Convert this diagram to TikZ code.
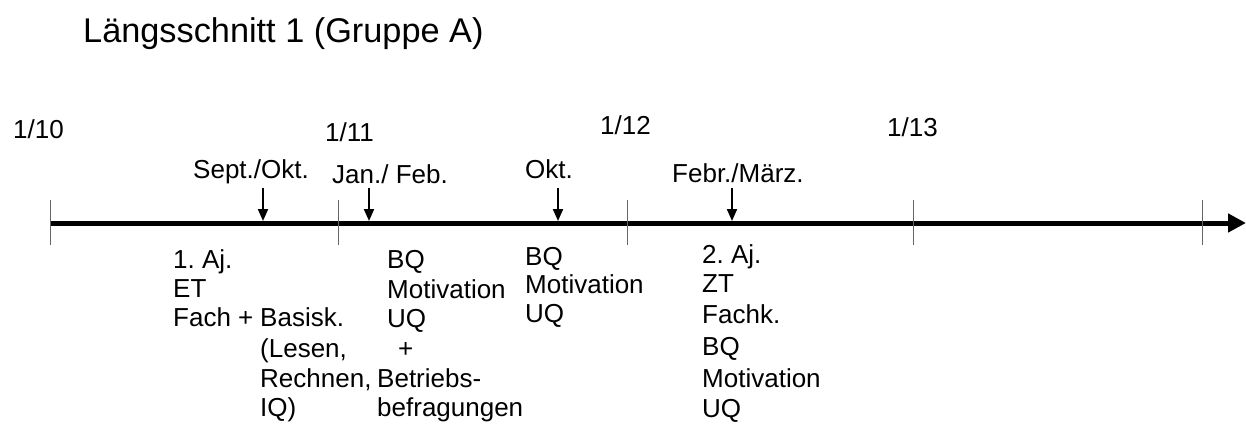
\documentclass[tikz,border=0pt]{standalone}
\usepackage{fontspec}
\setmainfont{Liberation Sans}
\usetikzlibrary{arrows.meta}
\frenchspacing
\begin{document}
\begin{tikzpicture}[x=1pt,y=-1pt,
  txt/.style={anchor=base west, inner sep=0pt, font=\fontsize{26}{31}\selectfont},
  ttl/.style={anchor=base west, inner sep=0pt, font=\fontsize{34.3}{41}\selectfont},
  axis/.style={line width=5pt, -{Triangle[length=18pt,width=18pt]}},
  tick/.style={line width=1pt, black!60},
  marker/.style={line width=2pt, -{Triangle[length=12pt,width=10pt]}}]
\useasboundingbox (0,0) rectangle (1246,425);
% title
\node[ttl] (title) at (83,43) {Längsschnitt 1 (Gruppe A)};
% axis
\coordinate (a0) at (50,223);
\coordinate (a1) at (1246,223);
\draw[axis] (a0) -- (a1);
% ticks
\foreach \x/\n in {50/t0,338/t1,627/t2,913/t3,1202/t4}{
  \coordinate (\n top) at (\x,200);
  \coordinate (\n bot) at (\x,245);
  \draw[tick] (\n top) -- (\n bot);
}
% year labels
\node[txt] (y10) at (13,139) {1/10};
\node[txt] (y11) at (325,141) {1/11};
\node[txt] (y12) at (600,135) {1/12};
\node[txt] (y13) at (887,136) {1/13};
% month labels
\node[txt] (m1) at (193,178) {Sept./Okt.};
\node[txt] (m2) at (332,183) {Jan./ Feb.};
\node[txt] (m3) at (525,178) {Okt.};
\node[txt] (m4) at (672,182) {Febr./März.};
% marker arrows
\foreach \x/\n in {263/p1,369/p2,558/p3,732/p4}{
  \coordinate (\n s) at (\x,188);
  \coordinate (\n e) at (\x,221);
  \draw[marker] (\n s) -- (\n e);
}
% block A
\node[txt] (a1l) at (173,268) {1. Aj.};
\node[txt] (a2l) at (173,297) {ET};
\node[txt] (a3l) at (173,326) {Fach +};
% block B
\node[txt] (b1l) at (260,326) {Basisk.};
\node[txt] (b2l) at (260,357) {(Lesen,};
\node[txt] (b3l) at (260,387) {Rechnen,};
\node[txt] (b4l) at (260,416) {IQ)};
% block C
\node[txt] (c1l) at (387,268) {BQ};
\node[txt] (c2l) at (387,298) {Motivation};
\node[txt] (c3l) at (387,327) {UQ};
\node[txt] (plus) at (398,357) {+};
\node[txt] (d1l) at (377,387) {Betriebs-};
\node[txt] (d2l) at (377,416) {befragungen};
% block E
\node[txt] (e1l) at (525,265) {BQ};
\node[txt] (e2l) at (525,293) {Motivation};
\node[txt] (e3l) at (525,322) {UQ};
% block F
\node[txt] (f1l) at (702,263) {2. Aj.};
\node[txt] (f2l) at (702,292) {ZT};
\node[txt] (f3l) at (702,323) {Fachk.};
\node[txt] (f4l) at (702,355) {BQ};
\node[txt] (f5l) at (702,387) {Motivation};
\node[txt] (f6l) at (702,417) {UQ};
\end{tikzpicture}
\end{document}
